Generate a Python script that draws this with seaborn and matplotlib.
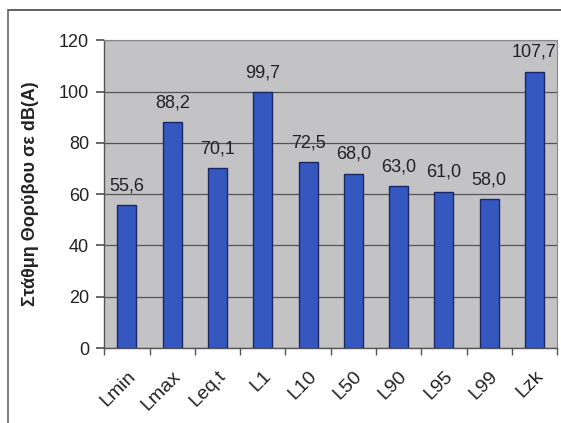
import matplotlib
matplotlib.use("Agg")
import matplotlib.pyplot as plt
import seaborn as sns
import pandas as pd
from matplotlib.lines import Line2D

categories = ["Lmin", "Lmax", "Leq.t", "L1", "L10", "L50", "L90", "L95", "L99", "Lzk"]
values = [55.6, 88.2, 70.1, 99.7, 72.5, 68.0, 63.0, 61.0, 58.0, 107.7]
yticks = [0, 20, 40, 60, 80, 100, 120]
ylabel = "Στάθμη Θορύβου σε dB(A)"

sns.set_theme(style="white")
plt.rcParams["font.family"] = ["Liberation Sans", "DejaVu Sans"]

df = pd.DataFrame({"cat": categories, "val": values})

fig = plt.figure(figsize=(5.61, 4.23), dpi=100)
ax = fig.add_axes([0.186, 0.177, 0.807, 0.728])
sns.barplot(data=df, x="cat", y="val", ax=ax, color="#3558c0", width=0.42,
            edgecolor="#1c2660", linewidth=1.0, saturation=1)
ax.set_facecolor("#c3c3c5")
ax.set_ylim(0, 120)
ax.set_xlim(-0.5, len(categories) - 0.5)
ax.set_yticks(yticks)
ax.set_yticklabels([str(t) for t in yticks], fontsize=13, color="#222222")
ax.yaxis.grid(True, color="#555555", linewidth=0.9)
ax.set_axisbelow(True)
ax.set_xlabel("")
ax.set_ylabel(ylabel, fontsize=13, fontweight="bold", labelpad=14, color="#222222")

# Ticks between categories
ax.set_xticks([i for i in range(len(categories))])
ax.set_xticklabels(categories, rotation=45, ha="right", rotation_mode="anchor", fontsize=14, color="#222222")
ax.tick_params(axis="x", length=0, pad=14)
ax.set_xticks([i - 0.5 for i in range(len(categories) + 1)], minor=True)
ax.tick_params(axis="x", which="minor", length=5, color="#555555", direction="out", bottom=True)
ax.tick_params(axis="y", length=6, color="#555555", direction="out", left=True, pad=5)

for s in ["top", "right"]:
    ax.spines[s].set_color("#888888")
    ax.spines[s].set_linewidth(0.8)
for s in ["left", "bottom"]:
    ax.spines[s].set_color("#555555")
    ax.spines[s].set_linewidth(1.0)

for i, v in enumerate(values):
    ax.text(i, v + 4.2, f"{v:.1f}".replace(".", ","), ha="center", va="bottom", fontsize=13, color="#222222")

# figure frame (top and left)
fig.add_artist(Line2D([8/561, 1.0], [1 - 10/423, 1 - 10/423], transform=fig.transFigure, color="#444444", linewidth=1.2))
fig.add_artist(Line2D([8/561, 8/561], [0, 1 - 10/423], transform=fig.transFigure, color="#666666", linewidth=1.2))

fig.savefig("out.png", dpi=100)
